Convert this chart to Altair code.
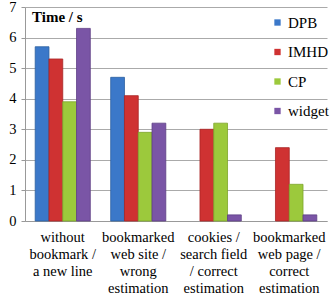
import altair as alt
import pandas as pd

categories = [
    "without\nbookmark /\na new line",
    "bookmarked\nweb site /\nwrong\nestimation",
    "cookies /\nsearch field\n/ correct\nestimation",
    "bookmarked\nweb page /\ncorrect\nestimation",
]
series = ["DPB", "IMHD", "CP", "widget"]
colors = ["#3b78c9", "#cf3232", "#9cc93c", "#7a55a6"]
edge_colors = ["#2c5f9f", "#a82424", "#7ca52a", "#5e3f85"]
DPB = [5.7, 4.7, 0, 0]
IMHD = [5.3, 4.1, 3.0, 2.4]
CP = [3.9, 2.9, 3.2, 1.2]
widget = [6.3, 3.2, 0.2, 0.2]
y_title = "Time / s"

rows = []
for s, vals in zip(series, [DPB, IMHD, CP, widget]):
    for c, v in zip(categories, vals):
        rows.append({"cat": c, "series": s, "value": v})
df = pd.DataFrame(rows)

FONT = "Liberation Serif"

bars = alt.Chart(df).transform_filter("datum.value > 0").mark_bar(strokeWidth=0.8).encode(
    x=alt.X("cat:N", sort=categories, title=None,
            scale=alt.Scale(domain=categories, paddingInner=0.27, paddingOuter=0.135),
            axis=alt.Axis(labelAngle=0, labelExpr="split(datum.label, '\\n')",
                          labelLineHeight=17, labelPadding=9, ticks=False,
                          domainColor="#999", labelLimit=200)),
    xOffset=alt.XOffset("series:N", sort=series, scale=alt.Scale(domain=series)),
    y=alt.Y("value:Q", title=None,
            scale=alt.Scale(domain=[0, 7]),
            axis=alt.Axis(values=list(range(8)),
                          gridColor="#aaa", domainColor="#999",
                          tickColor="#999", tickSize=4, labelPadding=5)),
    color=alt.Color("series:N", sort=series,
                    scale=alt.Scale(domain=series, range=colors),
                    legend=alt.Legend(title=None, orient="none", legendX=245, legendY=8,
                                      symbolType="square", symbolSize=40, labelOffset=3,
                                      rowPadding=13.5, symbolStrokeWidth=0)),
    stroke=alt.Stroke("series:N", sort=series,
                      scale=alt.Scale(domain=series, range=edge_colors), legend=None),
)

title_text = alt.Chart(pd.DataFrame({"t": [y_title]})).mark_text(
    font=FONT, fontSize=15, fontWeight="bold", color="#000",
    align="left", baseline="middle"
).encode(x=alt.value(7), y=alt.value(10), text="t:N")

chart = alt.layer(bars, title_text).properties(
    width=302, height=214,
    autosize=alt.AutoSizeParams(type="none"),
    padding={"left": 25, "top": 7, "right": 4, "bottom": 75},
).configure(font=FONT).configure_view(stroke=None).configure_axis(
    labelFont=FONT, labelFontSize=14.5, labelColor="#000"
).configure_legend(
    labelFont=FONT, labelFontSize=15, labelColor="#000"
)

chart.save("out.html", embed_options={"renderer": "svg", "actions": False})
